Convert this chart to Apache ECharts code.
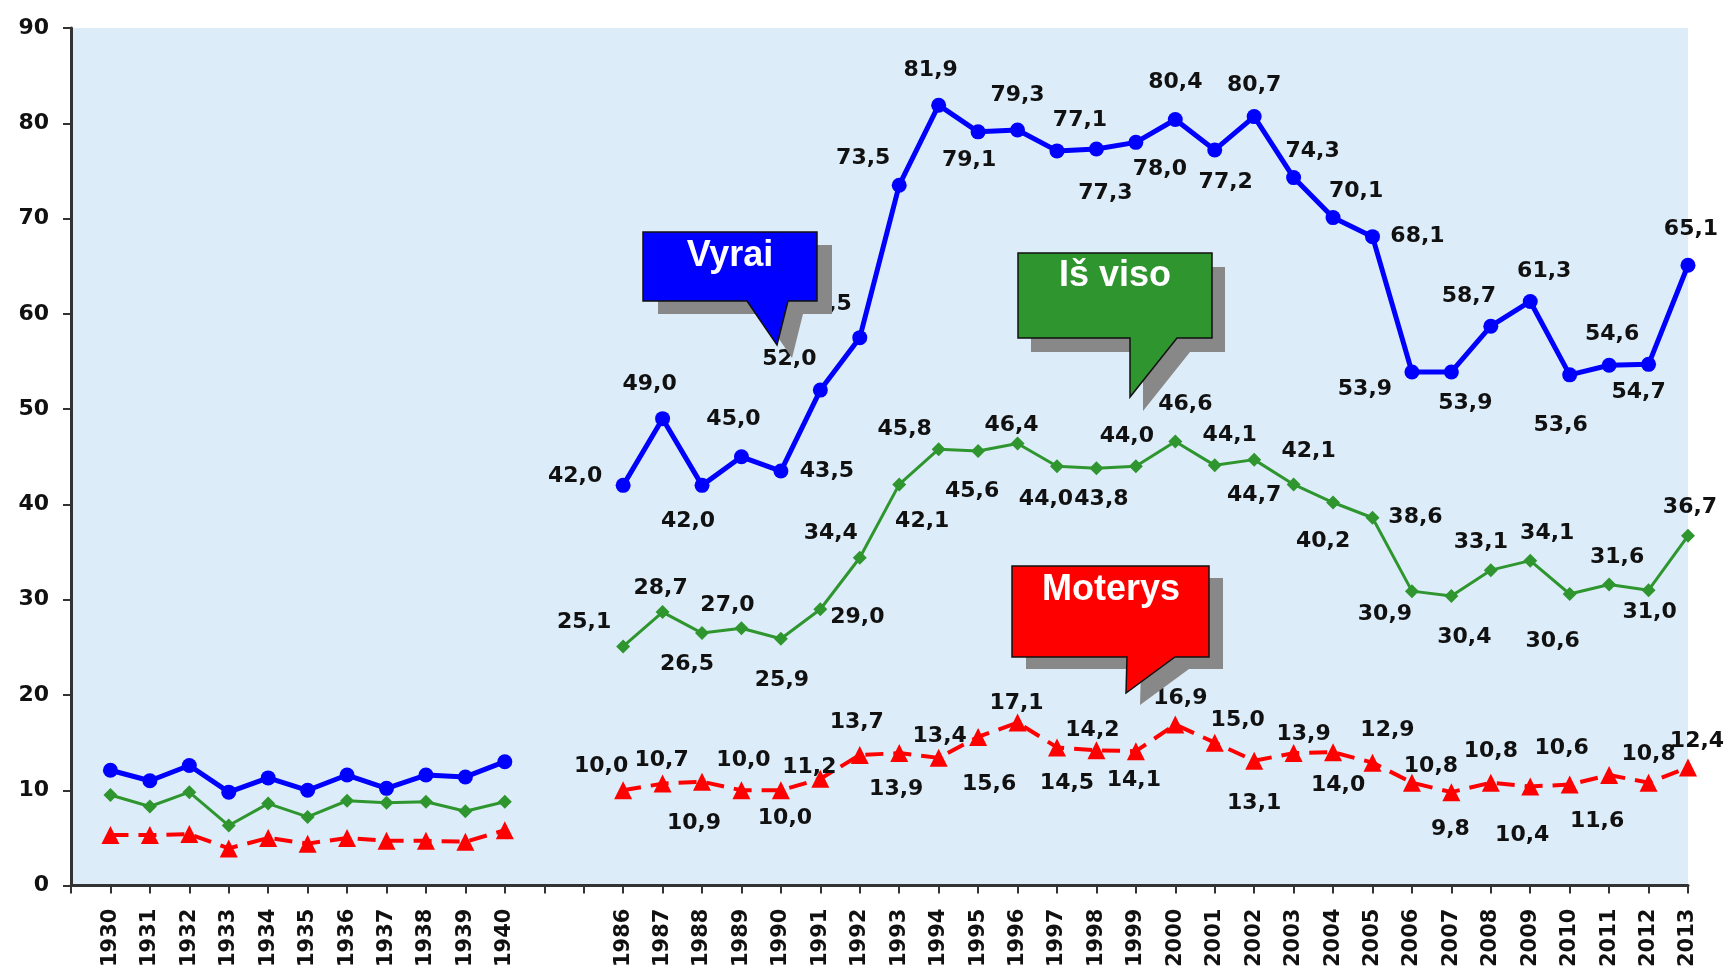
<!DOCTYPE html>
<html lang="lt">
<head>
    <meta charset="UTF-8">
    <title>Vyrai, moterys, iš viso</title>
    <script src="https://cdn.jsdelivr.net/npm/echarts@6/dist/echarts.min.js"></script>
    <style>
        html, body { margin: 0; padding: 0; background: #fff; }
        #container { width: 1726px; height: 970px; }
    </style>
</head>
<body>
<div id="container"></div>
<script>
    // metai: dvi atkarpos, tarp jų tušti stulpeliai
    var years1 = ['1930','1931','1932','1933','1934','1935','1936','1937','1938','1939','1940'];
    var years2 = ['1986','1987','1988','1989','1990','1991','1992','1993','1994','1995','1996','1997','1998','1999',
                  '2000','2001','2002','2003','2004','2005','2006','2007','2008','2009','2010','2011','2012','2013'];

    // Vyrai
    var men1 = [12.1, 11.0, 12.6, 9.8, 11.3, 10.0, 11.6, 10.2, 11.6, 11.4, 13.0];
    var men2 = [42.0, 49.0, 42.0, 45.0, 43.5, 52.0, 57.5, 73.5, 81.9, 79.1, 79.3, 77.1, 77.3, 78.0,
                80.4, 77.2, 80.7, 74.3, 70.1, 68.1, 53.9, 53.9, 58.7, 61.3, 53.6, 54.6, 54.7, 65.1];
    // Iš viso
    var total1 = [9.5, 8.3, 9.8, 6.3, 8.6, 7.2, 8.9, 8.7, 8.8, 7.8, 8.8];
    var total2 = [25.1, 28.7, 26.5, 27.0, 25.9, 29.0, 34.4, 42.1, 45.8, 45.6, 46.4, 44.0, 43.8, 44.0,
                  46.6, 44.1, 44.7, 42.1, 40.2, 38.6, 30.9, 30.4, 33.1, 34.1, 30.6, 31.6, 31.0, 36.7];
    // Moterys
    var women1 = [5.3, 5.3, 5.4, 3.9, 5.0, 4.4, 5.0, 4.7, 4.7, 4.6, 5.8];
    var women2 = [10.0, 10.7, 10.9, 10.0, 10.0, 11.2, 13.7, 13.9, 13.4, 15.6, 17.1, 14.5, 14.2, 14.1,
                  16.9, 15.0, 13.1, 13.9, 14.0, 12.9, 10.8, 9.8, 10.8, 10.4, 10.6, 11.6, 10.8, 12.4];

    // užrašų poslinkis nuo taško centro [dx, dy] (tik 1986-2013)
    var menLabelAt = [[-48,-9],[-13,-34],[-14,36],[-8,-37],[46,0],[-31,-31],[-35,-33],[-36,-27],[-8,-35],[-9,28],
                      [0,-35],[23,-31],[9,44],[24,27],[0,-37],[11,32],[0,-31],[19,-26],[23,-26],[45,0],
                      [-47,17],[14,31],[-22,-30],[14,-30],[-9,50],[3,-31],[-10,28],[3,-36]];
    var totalLabelAt = [[-39,-24],[-2,-24],[-15,31],[-14,-23],[1,42],[37,8],[-29,-24],[23,37],[-34,-20],[-6,40],
                        [-6,-18],[-11,33],[5,31],[-9,-30],[10,-37],[15,-30],[0,36],[15,-33],[-10,39],[43,0],
                        [-27,23],[13,41],[-10,-28],[17,-27],[-17,47],[8,-27],[1,22],[2,-29]];
    var womenLabelAt = [[-22,-24],[-1,-23],[-8,42],[2,-30],[4,28],[-11,-12],[-3,-33],[-3,36],[1,-22],[11,47],
                        [-1,-19],[10,36],[-4,-20],[-2,29],[5,-26],[23,-22],[0,43],[10,-19],[5,33],[15,-32],
                        [19,-16],[-1,37],[0,-31],[-8,49],[-8,-36],[-12,46],[0,-28],[9,-26]];

    var categories = [''].concat(years1, ['', ''], years2);

    function build(first, second, offsets) {
        var out = [null];
        first.forEach(function (v) { out.push({value: v, label: {show: false}}); });
        out.push(null, null);
        second.forEach(function (v, i) {
            out.push({value: v, label: {show: true, position: 'inside', offset: offsets[i]}});
        });
        return out;
    }

    var labelStyle = {
        fontFamily: 'DejaVu Sans',
        fontWeight: 'bold',
        fontSize: 22,
        color: '#111',
        align: 'center',
        verticalAlign: 'middle',
        formatter: function (p) { return p.value.toFixed(1).replace('.', ','); }
    };

    function callout(pts, dx, dy, color, text, tx, ty) {
        var shadow = pts.map(function (p) { return [p[0] + dx, p[1] + dy]; });
        return [
            {type: 'polygon', z: 100, shape: {points: shadow}, style: {fill: '#888'}},
            {type: 'polygon', z: 101, shape: {points: pts}, style: {fill: color, stroke: '#111', lineWidth: 1.5}},
            {type: 'text', z: 102, x: tx, y: ty, style: {
                text: text, fill: '#fff', font: 'bold 36px "Liberation Sans", Arial',
                textAlign: 'center', textVerticalAlign: 'middle'}}
        ];
    }

    var chart = echarts.init(document.getElementById('container'));

    var option = {
        backgroundColor: '#fff',
        animation: false,
        grid: {
            show: true,
            left: 71, right: 38, top: 28, bottom: 82,
            backgroundColor: '#dcecf8',
            borderWidth: 0
        },
        xAxis: {
            type: 'category',
            data: categories,
            boundaryGap: false,
            axisLine: {lineStyle: {color: '#333', width: 3}},
            axisTick: {show: true, interval: 0, length: 8, lineStyle: {color: '#333', width: 2}},
            axisLabel: {
                interval: 0, rotate: 90, margin: 23,
                fontFamily: 'DejaVu Sans', fontWeight: 'bold', fontSize: 21, color: '#111'
            },
            splitLine: {show: false}
        },
        yAxis: {
            type: 'value',
            min: 0, max: 90, interval: 10,
            axisLine: {show: true, lineStyle: {color: '#333', width: 3}},
            axisTick: {show: true, length: 8, lineStyle: {color: '#333', width: 2}},
            axisLabel: {margin: 22, fontFamily: 'DejaVu Sans', fontWeight: 'bold', fontSize: 22, color: '#111'},
            splitLine: {show: false}
        },
        series: [
            {
                name: 'Vyrai', type: 'line',
                data: build(men1, men2, menLabelAt),
                symbol: 'circle', symbolSize: 15,
                lineStyle: {color: '#0000ff', width: 5},
                itemStyle: {color: '#0000ff'},
                label: labelStyle,
                z: 4
            },
            {
                name: 'Iš viso', type: 'line',
                data: build(total1, total2, totalLabelAt),
                symbol: 'diamond', symbolSize: 14,
                lineStyle: {color: '#2f962f', width: 3},
                itemStyle: {color: '#2f962f'},
                label: labelStyle,
                z: 3
            },
            {
                name: 'Moterys', type: 'line',
                data: build(women1, women2, womenLabelAt),
                symbol: 'triangle', symbolSize: 18,
                lineStyle: {color: '#ff0000', width: 4, type: [18, 10]},
                itemStyle: {color: '#ff0000'},
                label: labelStyle,
                z: 2
            }
        ],
        graphic: [].concat(
            callout([[643,232],[817,232],[817,301],[788,301],[777,345],[747,301],[643,301]], 15, 13, '#0000ff', 'Vyrai', 730, 256),
            callout([[1018,253],[1212,253],[1212,338],[1177,338],[1130,397],[1130,338],[1018,338]], 13, 14, '#2f962f', 'Iš viso', 1115, 276),
            callout([[1012,566],[1209,566],[1209,657],[1175,657],[1126,693],[1127,657],[1012,657]], 14, 12, '#ff0000', 'Moterys', 1111, 590)
        )
    };

    chart.setOption(option);
</script>
</body>
</html>
